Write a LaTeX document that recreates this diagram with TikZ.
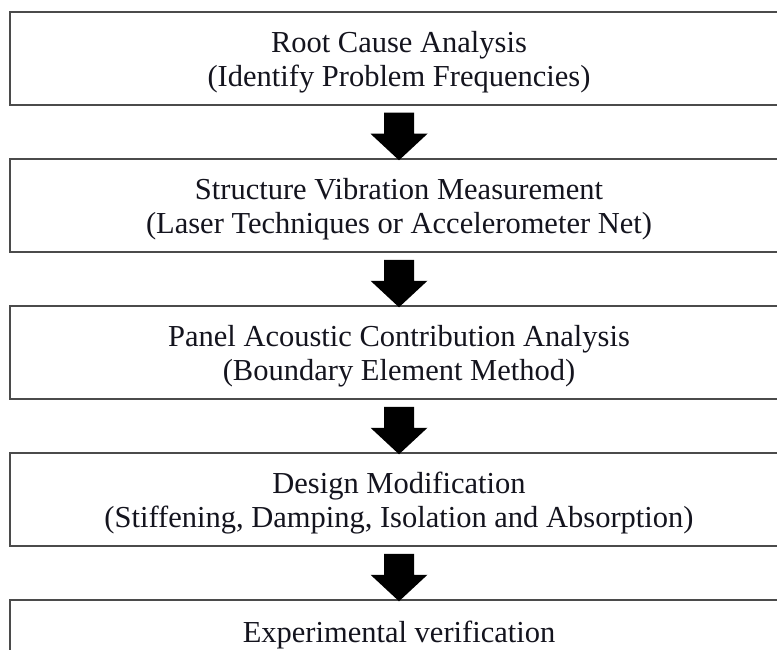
\documentclass[tikz,border=0pt]{standalone}
\usepackage{fontspec}
\setmainfont{Liberation Serif}
\usetikzlibrary{calc}
\definecolor{boxline}{RGB}{75,75,75}
\definecolor{txt}{RGB}{20,20,30}
\tikzset{
  stage/.style={draw=boxline, line width=1.5pt, minimum width=778pt, minimum height=93pt, inner sep=0pt, fill=white},
  stagetext/.style={align=center, text=txt, inner sep=0pt, anchor=north, font=\fontsize{30.5}{34}\selectfont},
  bigarrow/.style={fill=black, draw=none}
}
\newcommand{\downarrowshape}[2]{%
  \fill[bigarrow] ($(#1.south)+(-15,7)$) -- ($(#1.south)+(15,7)$) -- ($(#1.south)+(15,28)$) -- ($(#1.south)+(28.5,28)$)
    -- ($(#2.north)+(0,2)$) -- ($(#1.south)+(-28.5,28)$) -- ($(#1.south)+(-15,28)$) -- cycle;}
\begin{document}
\begin{tikzpicture}[x=1pt,y=-1pt]
\useasboundingbox (0,0) rectangle (777,650);
\clip (0,0) rectangle (777,650);
\node[stage] (b1) at (399,58.5) {};
\node[stage] (b2) at (399,205.5) {};
\node[stage] (b3) at (399,352.5) {};
\node[stage] (b4) at (399,499.5) {};
\node[stage] (b5) at (399,646.5) {};
\node[stagetext] (t1) at ($(b1.north)+(0,20)$) {Root Cause Analysis\\(Identify Problem Frequencies)};
\node[stagetext] (t2) at ($(b2.north)+(0,20)$) {Structure Vibration Measurement\\(Laser Techniques or Accelerometer Net)};
\node[stagetext] (t3) at ($(b3.north)+(0,20)$) {Panel Acoustic Contribution Analysis\\(Boundary Element Method)};
\node[stagetext] (t4) at ($(b4.north)+(0,20)$) {Design Modification\\(Stiffening, Damping, Isolation and Absorption)};
\node[stagetext, anchor=base] (t5) at ($(b5.north)+(0,43)$) {Experimental verification};
\downarrowshape{b1}{b2}
\downarrowshape{b2}{b3}
\downarrowshape{b3}{b4}
\downarrowshape{b4}{b5}
\end{tikzpicture}
\end{document}
